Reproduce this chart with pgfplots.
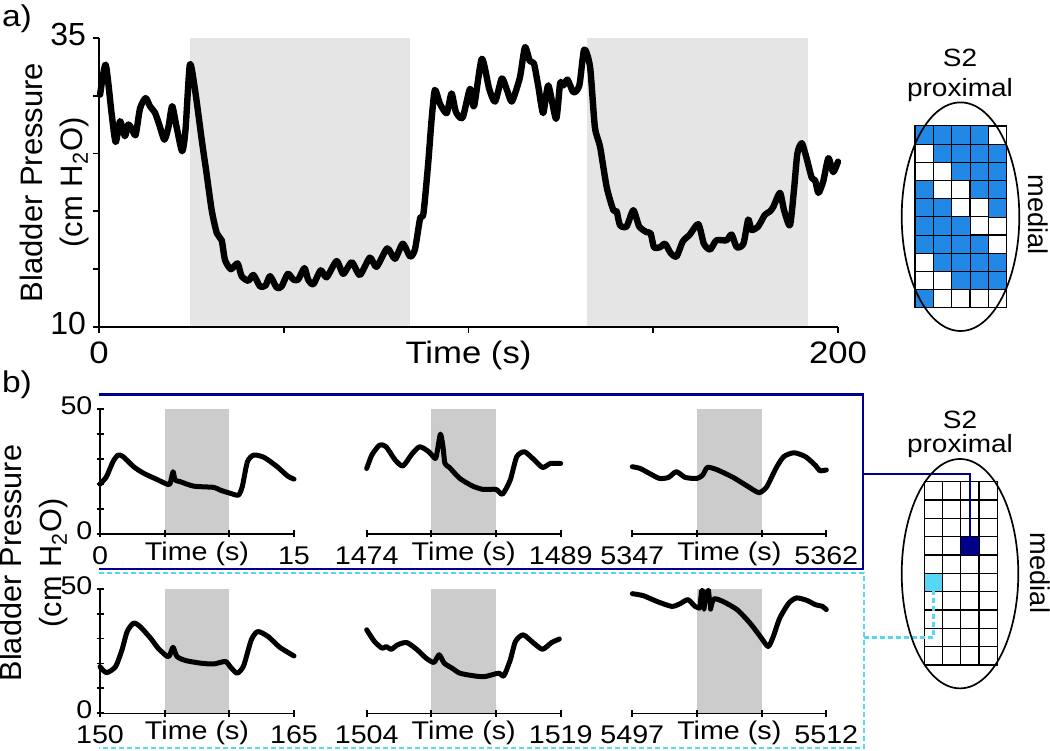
\documentclass[border=0pt]{standalone}
\usepackage{fontspec}
\setmainfont{Liberation Sans}[FakeStretch=1.12]
\newfontfamily\plainfont{Liberation Sans}
\usepackage{pgfplots}
\pgfplotsset{compat=1.18}

\definecolor{shadeA}{RGB}{229,229,229}
\definecolor{shadeB}{RGB}{204,204,204}
\definecolor{cellblue}{RGB}{33,136,230}
\definecolor{navy}{RGB}{0,0,140}
\definecolor{lightcyan}{RGB}{85,215,245}

\pgfplotsset{
  trace/.style={black, line width=2.5pt, smooth, tension=0.4, line join=round, line cap=round},
  small/.style={
    scale only axis, width=97pt, height=62.3pt,
    ymin=0, ymax=50, clip=false,
    axis lines*=left,
    axis line style={line width=1pt},
    tick style={line width=0.9pt, black},
    tick align=center, major tick length=3.5pt,
    tick label style={font=\fontsize{12.8}{14}\selectfont},
    typeset ticklabels with strut,
    ytick={0,10,20,30,40,50}, yticklabels={0,,,,,50},
    yticklabel style={xshift=1.5pt},
    extra x tick style={major tick length=0pt},
    extra x tick labels={Time (s)},
  },
  cells/.style={
    scale only axis,
    xticklabels={}, yticklabels={}, major tick length=0pt,
    grid=major, major grid style={black, line width=0.6pt},
    axis line style={line width=0.6pt},
    axis on top, clip=false,
  },
}

\begin{document}
\begin{tikzpicture}
\useasboundingbox (0,0) rectangle (525pt,375pt);

% ---------------- panel a ----------------
\begin{axis}[
  at={(49.5pt,211.5pt)}, anchor=south west,
  scale only axis, width=369.5pt, height=144.5pt,
  xmin=0, xmax=200, ymin=10, ymax=35,
  axis lines*=left, axis line style={line width=1pt},
  tick style={line width=0.9pt, black}, tick align=outside, major tick length=3pt,
  xtick={0,50,100,150,200}, xticklabels={0,,Time (s),,200},
  ytick={10,15,20,25,30,35}, yticklabels={10,,,,,35},
  xticklabel style={font=\fontsize{15.5}{17}\selectfont},
  yticklabel style={font=\plainfont\fontsize{16}{18}\selectfont},
  typeset ticklabels with strut,
  ylabel={Bladder Pressure\\(cm H\textsubscript{2}O)},
  ylabel style={at={(axis description cs:-0.06,0.5)}, anchor=center, align=center,
    font=\plainfont\fontsize{15.5}{20}\selectfont},
  clip=false,
]
\addplot[fill=shadeA, draw=none, forget plot] coordinates {(24.6,10) (24.6,35) (84.2,35) (84.2,10)} -- cycle;
\addplot[fill=shadeA, draw=none, forget plot] coordinates {(132,10) (132,35) (191.8,35) (191.8,10)} -- cycle;
\addplot[trace, line width=3.2pt] coordinates {
(0.3,30.1) (1.8,32.7) (3.4,28.5) (4.5,26.0) (5.7,27.8) (7.0,26.5) (7.9,27.5) (8.8,27.2)
(9.9,26.6) (11.1,28.9) (12.6,29.8) (13.8,29.1) (15.2,28.5) (16.5,27.3) (17.7,26.2) (18.8,27.3)
(19.8,29.1) (21.0,27.3) (22.5,25.2) (23.4,27.0) (24.6,32.7) (26.0,30.5) (27.8,26.2) (29.1,23.3)
(30.5,20.1) (31.9,18.1) (33.2,17.5) (34.1,15.8) (35.7,15.0) (37.5,15.5) (38.6,14.4) (40.4,14.0)
(41.8,14.5) (43.6,13.5) (45.1,13.6) (46.3,14.4) (48.1,13.4) (49.4,13.5) (51.1,14.6) (52.6,14.1)
(53.9,14.1) (55.6,15.1) (56.6,14.1) (58.0,13.7) (60.0,14.9) (61.6,14.3) (64.3,15.7) (66.1,14.6)
(68.4,15.6) (70.6,14.5) (73.3,16.0) (75.1,15.2) (78.0,16.8) (80.1,15.9) (82.2,17.2) (84.2,16.1)
(85.5,16.7) (86.9,19.4) (87.8,19.8) (89.1,24.2) (90.0,27.9) (90.9,30.5) (92.3,29.3) (94.1,28.5)
(95.4,30.2) (96.6,28.6) (98.4,28.1) (100.4,30.6) (101.5,29.1) (103.6,33.2) (105.6,30.6) (107.2,29.5)
(109.0,31.5) (110.3,30.6) (111.7,29.5) (113.5,31.1) (114.1,31.9) (115.3,34.2) (116.6,33.0) (117.7,32.8)
(118.9,30.8) (120.2,28.5) (121.6,30.9) (123.7,28.0) (124.8,31.1) (125.7,30.9) (126.8,31.4) (128.4,30.3)
(130.0,30.9) (131.3,34.0) (132.9,32.5) (134.2,27.3) (135.6,25.6) (137.4,22.1) (139.2,20.1) (140.1,20.0)
(141.0,18.8) (142.8,18.7) (144.6,20.1) (146.2,18.7) (148.2,18.2) (149.3,18.1) (150.2,16.9) (151.8,16.9)
(153.2,17.2) (154.7,16.4) (156.3,16.1) (158.0,17.4) (159.9,18.0) (162.2,18.9) (163.7,17.2) (165.4,16.7)
(167.1,17.5) (169.8,17.5) (171.2,18.0) (172.6,16.9) (174.4,17.2) (175.7,19.3) (176.6,18.4) (178.4,18.7)
(180.2,19.7) (181.6,20.0) (182.5,20.4) (184.3,21.6) (185.4,20.1) (187.0,18.8) (188.1,21.9) (189.0,25.0)
(190.2,25.9) (191.5,24.6) (192.9,22.9) (193.8,22.7) (194.7,21.6) (196.0,22.6) (197.4,24.6) (198.7,23.4)
(200.0,24.3)
};
\end{axis}

% electrode map a
\begin{axis}[cells, at={(457.5pt,221.15pt)}, anchor=south west,
  width=45.85pt, height=90.85pt, xmin=0, xmax=5, ymin=0, ymax=10,
  xtick={0,1,2,3,4,5}, ytick={0,1,2,3,4,5,6,7,8,9,10}]
\addplot[only marks, mark=square*, mark size=4.6pt, mark options={draw=none, fill=cellblue}] coordinates {
(0.5,9.5) (1.5,9.5) (2.5,9.5) (3.5,9.5)
(1.5,8.5) (2.5,8.5) (3.5,8.5) (4.5,8.5)
(2.5,7.5) (3.5,7.5) (4.5,7.5)
(0.5,6.5) (3.5,6.5) (4.5,6.5)
(0.5,5.5) (1.5,5.5) (4.5,5.5)
(0.5,4.5) (1.5,4.5) (2.5,4.5)
(0.5,3.5) (1.5,3.5) (2.5,3.5) (3.5,3.5)
(1.5,2.5) (2.5,2.5) (3.5,2.5) (4.5,2.5)
(2.5,1.5) (3.5,1.5) (4.5,1.5)
(0.5,0.5)
};
\end{axis}

% ---------------- panel b, row 1 ----------------
\begin{axis}[small, at={(50pt,108pt)}, anchor=south west,
  xmin=0, xmax=15, xtick={0,5,10,15}, xticklabels={0,,,15}, extra x ticks={7.5}]
\addplot[fill=shadeB, draw=none, forget plot] coordinates {(5,0) (5,50) (10,50) (10,0)} -- cycle;
\addplot[trace] coordinates {
(0,20.0) (0.5,23.0) (1.0,29.0) (1.4,31.7) (1.8,31.0) (2.6,27.0) (3.4,24.3) (4.4,21.9)
(5.05,20.3) (5.4,20.0) (5.65,25.0) (5.8,21.7) (6.2,21.0) (7.25,19.2) (8.8,18.7) (9.3,17.6)
(10.1,16.3) (10.7,15.6) (11.0,19.0) (11.4,29.0) (11.9,31.7) (12.7,30.7) (13.7,27.0) (14.5,23.3) (15.0,22.0)
};
\end{axis}

\begin{axis}[small, hide y axis, at={(183.35pt,108pt)}, anchor=south west,
  xmin=1474, xmax=1489, xtick={1474,1479,1484,1489}, xticklabels={1474,,,1489}, extra x ticks={1481.5}]
\addplot[fill=shadeB, draw=none, forget plot] coordinates {(1479,0) (1479,50) (1484,50) (1484,0)} -- cycle;
\addplot[trace] coordinates {
(1474.0,26.3) (1474.4,31.7) (1475.0,35.7) (1475.5,35.0) (1476.2,29.7) (1476.8,27.3) (1477.5,32.1)
(1478.1,35.0) (1478.8,33.0) (1479.3,30.3) (1479.45,33.0) (1479.7,40.1) (1479.9,35.0) (1480.05,28.3)
(1480.4,26.7) (1481.2,22.3) (1482.2,19.2) (1483.0,17.9) (1484.0,17.9) (1484.5,16.0) (1485.1,21.7)
(1485.6,31.0) (1486.2,33.0) (1486.9,30.0) (1487.6,26.7) (1488.2,28.3) (1489.0,28.3)
};
\end{axis}

\begin{axis}[small, hide y axis, at={(316.15pt,108pt)}, anchor=south west,
  xmin=5347, xmax=5362, xtick={5347,5352,5357,5362}, xticklabels={5347,,,5362}, extra x ticks={5354.5}]
\addplot[fill=shadeB, draw=none, forget plot] coordinates {(5352,0) (5352,50) (5357,50) (5357,0)} -- cycle;
\addplot[trace] coordinates {
(5347.0,27.0) (5347.6,26.3) (5348.4,24.1) (5349.1,22.3) (5349.8,22.7) (5350.4,25.0) (5351.1,22.7)
(5352.0,22.3) (5352.45,23.7) (5352.8,26.7) (5353.5,25.9) (5354.8,22.7) (5355.9,19.2) (5356.8,16.6)
(5357.4,19.0) (5358.1,26.3) (5358.7,31.0) (5359.5,32.6) (5360.4,31.0) (5361.2,27.3) (5361.5,25.4) (5362.0,25.7)
};
\end{axis}

% ---------------- panel b, row 2 ----------------
\begin{axis}[small, at={(50pt,18.35pt)}, anchor=south west,
  xmin=150, xmax=165, xtick={150,155,160,165}, xticklabels={150,,,165}, extra x ticks={157.5}]
\addplot[fill=shadeB, draw=none, forget plot] coordinates {(155,0) (155,50) (160,50) (160,0)} -- cycle;
\addplot[trace] coordinates {
(150,18.7) (150.5,16.3) (151.2,18.7) (151.7,25.5) (152.1,32.8) (152.6,36.2) (153.1,34.8) (153.9,30.2)
(154.5,26.1) (155.2,22.8) (155.4,23.4) (155.65,26.5) (155.95,22.8) (156.6,21.2) (157.8,20.1) (158.8,19.8)
(159.7,20.8) (160.1,18.5) (160.6,16.1) (161.1,19.0) (161.7,29.5) (162.2,32.8) (163.0,30.8) (163.9,26.5) (165.0,23.0)
};
\end{axis}

\begin{axis}[small, hide y axis, at={(183.35pt,18.35pt)}, anchor=south west,
  xmin=1504, xmax=1519, xtick={1504,1509,1514,1519}, xticklabels={1504,,,1519}, extra x ticks={1511.5}]
\addplot[fill=shadeB, draw=none, forget plot] coordinates {(1509,0) (1509,50) (1514,50) (1514,0)} -- cycle;
\addplot[trace] coordinates {
(1504.0,33.5) (1504.6,28.8) (1505.2,26.1) (1505.5,26.8) (1505.9,25.7) (1506.4,27.5) (1507.1,28.4)
(1507.9,25.5) (1508.6,22.1) (1509.2,20.4) (1509.6,23.5) (1510.0,20.1) (1510.6,18.1) (1511.2,16.1)
(1512.2,15.1) (1513.1,14.7) (1514.2,16.1) (1514.6,15.0) (1515.1,21.4) (1515.5,28.8) (1516.1,31.5)
(1516.9,28.2) (1517.6,25.7) (1518.3,28.4) (1518.9,29.8)
};
\end{axis}

\begin{axis}[small, hide y axis, at={(316.15pt,18.35pt)}, anchor=south west,
  xmin=5497, xmax=5512, xtick={5497,5502,5507,5512}, xticklabels={5497,,,5512}, extra x ticks={5504.5}]
\addplot[fill=shadeB, draw=none, forget plot] coordinates {(5502,0) (5502,50) (5507,50) (5507,0)} -- cycle;
\addplot[trace] coordinates {
(5497.0,48.0) (5497.85,47.2) (5498.9,44.9) (5500.05,42.9) (5500.7,44.0) (5501.3,45.6) (5501.85,42.9)
(5502.2,42.2)
};
\addplot[black, line width=2.2pt, line join=round] coordinates {
(5502.2,42.2) (5502.33,49.3) (5502.45,49.3) (5502.55,41.6) (5502.8,49.3) (5502.92,49.3) (5503.05,41.8)
};
\addplot[trace] coordinates {
(5503.05,41.8) (5503.3,45.9) (5504.0,44.9) (5505.1,41.6) (5506.1,36.2) (5506.9,30.8) (5507.5,26.8) (5507.9,30.8)
(5508.4,38.2) (5509.1,44.2) (5509.7,46.3) (5510.5,45.3) (5511.15,43.6) (5511.7,42.9) (5512.0,41.6)
};
\end{axis}

% electrode map b
\begin{axis}[cells, at={(462.15pt,42.5pt)}, anchor=south west,
  width=36.5pt, height=91.65pt, xmin=0, xmax=4, ymin=0, ymax=10,
  xtick={0,1,2,3,4}, ytick={0,1,2,3,4,5,6,7,8,9,10}]
\addplot[only marks, mark=square*, mark size=4.6pt, mark options={draw=none, fill=navy}] coordinates {(2.5,6.5)};
\addplot[only marks, mark=square*, mark size=4.6pt, mark options={draw=none, fill=lightcyan}] coordinates {(0.5,4.5)};
\end{axis}

% ---------------- frames, outlines and labels (pixel coordinates) ----------------
\begin{scope}[x=0.5pt, y=-0.5pt, yshift=375pt]
  \draw[navy, line width=1.2pt] (98.7,394.7) -- (863,394.7) -- (863,569) -- (98.7,569);
  \draw[navy, line width=1.2pt] (863,474.3) -- (970,474.3) -- (970,536.7);
  \draw[lightcyan, line width=1.2pt, dash pattern=on 2.5pt off 1.5pt]
    (99,573.3) -- (864,573.3) -- (864,748) -- (99,748);
  \draw[lightcyan, line width=1.2pt, dash pattern=on 2.5pt off 1.5pt]
    (864,637.7) -- (933.3,637.7) -- (933.3,591.3);
  \draw[line width=0.85pt] (960.5,216.7) ellipse [x radius=29.4pt, y radius=57.15pt];
  \draw[line width=0.85pt] (960,573.7) ellipse [x radius=29.15pt, y radius=57.35pt];

  \node[font=\fontsize{15}{17}\selectfont] at (17,18.5) {a)};
  \node[font=\fontsize{15}{17}\selectfont] at (17,385) {b)};

  \node[font=\fontsize{12.5}{14}\selectfont] at (960,57.5) {S2};
  \node[font=\fontsize{12.5}{14}\selectfont] at (960,90) {proximal};
  \node[font=\plainfont\fontsize{13.6}{15}\selectfont, rotate=-90] at (1038,215) {medial};

  \node[font=\fontsize{12.5}{14}\selectfont] at (960,420) {S2};
  \node[font=\fontsize{12.5}{14}\selectfont] at (960,446) {proximal};
  \node[font=\plainfont\fontsize{13.6}{15}\selectfont, rotate=-90] at (1040,573) {medial};

  \node[font=\plainfont\fontsize{15.3}{20}\selectfont, rotate=90, align=center] at (34,563)
    {Bladder Pressure\\(cm H\textsubscript{2}O)};
\end{scope}
\end{tikzpicture}
\end{document}
